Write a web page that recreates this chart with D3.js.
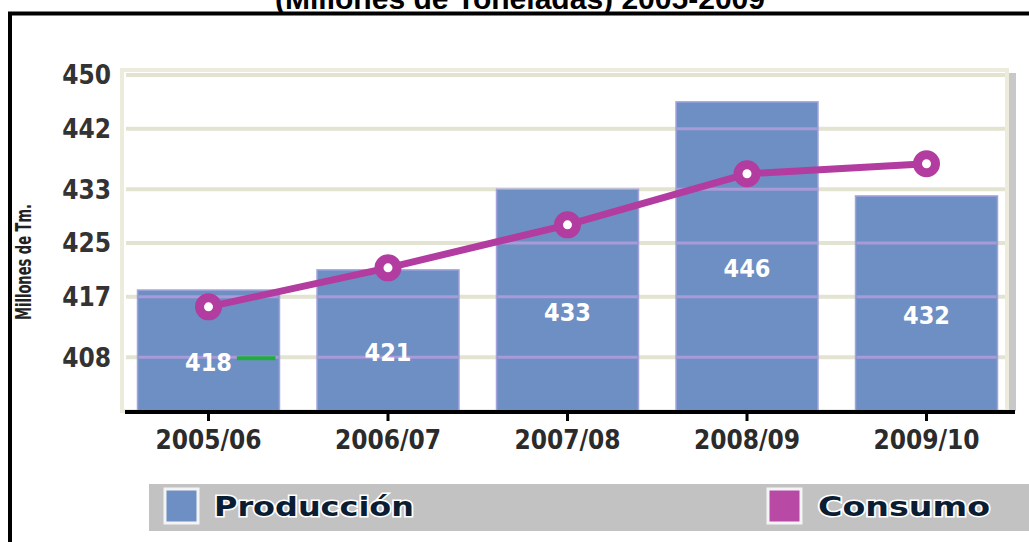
<!DOCTYPE html>
<html>
<head>
<meta charset="utf-8">
<script src="https://cdn.jsdelivr.net/npm/d3@7"></script>
<style>
  html, body { margin: 0; padding: 0; background: #ffffff; }
  svg { display: block; }
</style>
</head>
<body>
<svg id="chart" width="1029" height="542"></svg>
<script>
// ---- data ----
const categories = ["2005/06", "2006/07", "2007/08", "2008/09", "2009/10"];
const produccion = [418, 421, 433, 446, 432];
const consumo = [415.5, 421.3, 427.7, 435.3, 436.8];
const yTickLabels = [408, 417, 425, 433, 442, 450];
const titleText = "(Millones de Toneladas) 2005-2009";
const yAxisTitle = "Millones de Tm.";
const legendLabels = ["Producción", "Consumo"];

// ---- styles ----
const barColor = "#6e8fc4";
const lineColor = "#b23c9f";
const labelFont = "'DejaVu Sans Condensed', 'DejaVu Sans', sans-serif";

const svg = d3.select("#chart");

const x = d3.scaleBand().domain(categories).range([120, 1015])
  .paddingInner(0.209).paddingOuter(0.0975);
const y = d3.scaleLinear().domain([400, 450]).range([411, 75]);

// title (mostly cropped at top, as in the source image)
svg.append("text")
  .attr("x", 520).attr("y", 9)
  .attr("text-anchor", "middle")
  .attr("font-family", "'Liberation Sans', Arial, sans-serif")
  .attr("font-weight", "bold").attr("font-size", 30)
  .attr("textLength", 490).attr("lengthAdjust", "spacingAndGlyphs")
  .attr("fill", "#000").text(titleText);

// outer frame
svg.append("path")
  .attr("d", "M10,542 V13.5 H1029")
  .attr("fill", "none").attr("stroke", "#000").attr("stroke-width", 4);

// plot shadow on the right
svg.append("rect")
  .attr("x", 1006).attr("y", y(450) - 2)
  .attr("width", 10).attr("height", y(400) - y(450) + 2)
  .attr("fill", "#9a9a9a").attr("opacity", 0.55);

// plot background
svg.append("rect")
  .attr("x", 122).attr("y", y(450) - 5)
  .attr("width", 885).attr("height", y(400) - y(450) + 5)
  .attr("fill", "#ffffff").attr("stroke", "#ecebdc").attr("stroke-width", 4);

// beige grid lines
svg.append("g").selectAll("line").data(yTickLabels).join("line")
  .attr("x1", 126).attr("x2", 1005)
  .attr("y1", d => y(d)).attr("y2", d => y(d))
  .attr("stroke", "#e3e3d1").attr("stroke-width", 4);

// bars
const barG = svg.append("g");
barG.selectAll("rect").data(produccion).join("rect")
  .attr("x", (d, i) => x(categories[i]))
  .attr("y", d => y(d))
  .attr("width", x.bandwidth())
  .attr("height", d => y(400) - y(d))
  .attr("fill", barColor)
  .attr("stroke", "#a3a3dc").attr("stroke-width", 1.5);

// lavender grid lines showing through bars
produccion.forEach((v, i) => {
  barG.append("g").selectAll("line").data(yTickLabels.filter(t => t < v)).join("line")
    .attr("x1", x(categories[i]) + 1).attr("x2", x(categories[i]) + x.bandwidth() - 1)
    .attr("y1", t => y(t)).attr("y2", t => y(t))
    .attr("stroke", "#a99ad8").attr("stroke-width", 3);
});

// small green mark next to first label
svg.append("line")
  .attr("x1", x(categories[0]) + x.bandwidth() * 0.7)
  .attr("x2", x(categories[0]) + x.bandwidth() - 4)
  .attr("y1", y(408) + 1).attr("y2", y(408) + 1)
  .attr("stroke", "#1fae3c").attr("stroke-width", 4);

// value labels
svg.append("g").selectAll("text").data(produccion).join("text")
  .attr("x", (d, i) => x(categories[i]) + x.bandwidth() / 2)
  .attr("y", d => (y(d) + y(400)) / 2 + 12)
  .attr("dominant-baseline", "central")
  .attr("text-anchor", "middle")
  .attr("font-family", labelFont).attr("font-weight", "bold").attr("font-size", 25)
  .attr("fill", "#ffffff")
  .text(d => d);

// x axis line + ticks
svg.append("line")
  .attr("x1", 125).attr("x2", 1015)
  .attr("y1", y(400) + 1).attr("y2", y(400) + 1)
  .attr("stroke", "#000").attr("stroke-width", 4);
svg.append("g").selectAll("line").data(categories).join("line")
  .attr("x1", d => x(d) + x.bandwidth() / 2).attr("x2", d => x(d) + x.bandwidth() / 2)
  .attr("y1", y(400) + 2).attr("y2", y(400) + 10)
  .attr("stroke", "#000").attr("stroke-width", 3);

// x labels
svg.append("g").selectAll("text").data(categories).join("text")
  .attr("x", d => x(d) + x.bandwidth() / 2)
  .attr("y", 449)
  .attr("text-anchor", "middle")
  .attr("font-family", labelFont).attr("font-weight", "bold").attr("font-size", 26)
  .attr("fill", "#2b2b2b")
  .text(d => d);

// y tick labels
svg.append("g").selectAll("text").data(yTickLabels).join("text")
  .attr("x", 111)
  .attr("y", d => y(d))
  .attr("dy", "0.36em")
  .attr("text-anchor", "end")
  .attr("font-family", labelFont).attr("font-weight", "bold").attr("font-size", 26)
  .attr("fill", "#333")
  .text(d => d);

// y axis title
svg.append("text")
  .attr("transform", "translate(31,262) rotate(-90)")
  .attr("text-anchor", "middle")
  .attr("font-family", labelFont)
  .attr("font-weight", "bold").attr("font-size", 21)
  .attr("textLength", 116).attr("lengthAdjust", "spacingAndGlyphs")
  .attr("fill", "#222")
  .text(yAxisTitle);

// consumo line
const line = d3.line()
  .x((d, i) => x(categories[i]) + x.bandwidth() / 2)
  .y(d => y(d));
svg.append("path")
  .datum(consumo)
  .attr("d", line)
  .attr("fill", "none").attr("stroke", lineColor).attr("stroke-width", 7)
  .attr("stroke-linejoin", "round");
svg.append("g").selectAll("circle").data(consumo).join("circle")
  .attr("cx", (d, i) => x(categories[i]) + x.bandwidth() / 2)
  .attr("cy", d => y(d))
  .attr("r", 9)
  .attr("fill", "#ffffff")
  .attr("stroke", lineColor).attr("stroke-width", 9);

// legend
const lg = svg.append("g");
lg.append("rect")
  .attr("x", 149).attr("y", 484).attr("width", 890).attr("height", 47)
  .attr("fill", "#c2c2c2");
const legendItems = [
  { label: legendLabels[0], color: barColor, sx: 165, tx: 214, tl: 200 },
  { label: legendLabels[1], color: "#b84aa6", sx: 768, tx: 818, tl: 172 }
];
legendItems.forEach(it => {
  lg.append("rect")
    .attr("x", it.sx).attr("y", 489).attr("width", 33).attr("height", 34)
    .attr("fill", it.color).attr("stroke", "#f4f4f4").attr("stroke-width", 3);
  lg.append("text")
    .attr("x", it.tx).attr("y", 516)
    .attr("font-family", "'DejaVu Sans', sans-serif")
    .attr("font-weight", "bold").attr("font-size", 27)
    .attr("textLength", it.tl).attr("lengthAdjust", "spacingAndGlyphs")
    .attr("fill", "#0b1d33")
    .attr("stroke", "#ffffff").attr("stroke-width", 3)
    .attr("paint-order", "stroke")
    .text(it.label);
});
</script>
</body>
</html>
